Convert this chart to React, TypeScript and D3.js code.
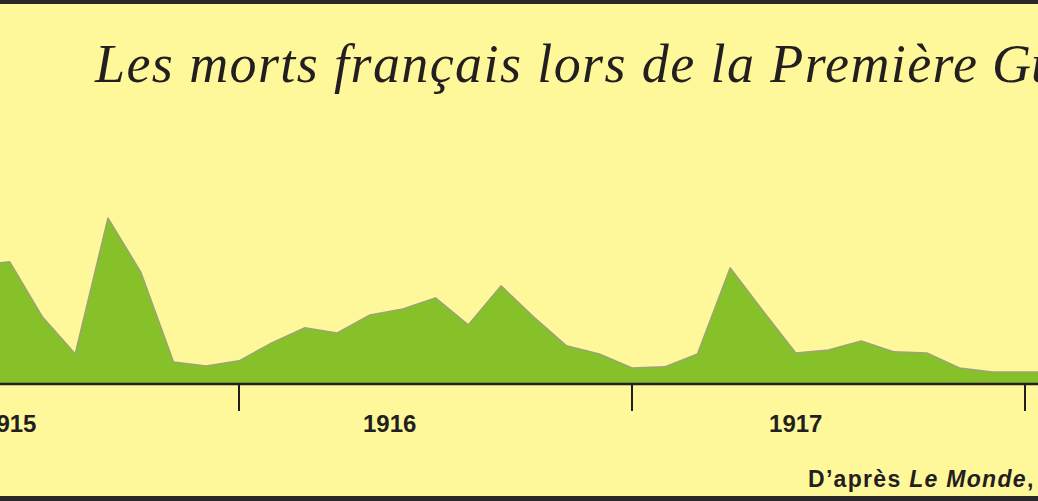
import React from "react";
import * as d3 from "d3";

// Monthly French military deaths (thousands)
const months: string[] = [
  "1915-05", "1915-06", "1915-07", "1915-08", "1915-09", "1915-10", "1915-11", "1915-12",
  "1916-01", "1916-02", "1916-03", "1916-04", "1916-05", "1916-06", "1916-07", "1916-08",
  "1916-09", "1916-10", "1916-11", "1916-12",
  "1917-01", "1917-02", "1917-03", "1917-04", "1917-05", "1917-06", "1917-07", "1917-08",
  "1917-09", "1917-10", "1917-11", "1917-12",
  "1918-01", "1918-02",
];
const deaths: number[] = [
  39.7, 40.7, 22.3, 10, 55.3, 37.3, 7.3, 6,
  7.7, 13.7, 18.7, 17, 23, 25, 28.7, 19.7,
  32.7, 22.3, 12.7, 10,
  5.3, 5.7, 10, 38.7, 24.3, 10.3, 11.3, 14.3,
  10.7, 10.3, 5.3, 4,
  4, 4,
];
const yearTicks: string[] = ["1915-01", "1916-01", "1917-01", "1918-01"];
const yearLabels: string[] = ["1915", "1916", "1917"];
const yearLabelAt: number[] = [5, 4.6, 5]; // months after January of that year
const title = "Les morts français lors de la Première Guerre mondiale";
const titleVisible = "Les morts français lors de la Première";
const titleRest = " Guerre mondiale";

const W = 1038;
const H = 501;

function monthIndex(s: string): number {
  const [y, m] = s.split("-").map(Number);
  return (y - 1916) * 12 + (m - 1);
}

export default function App() {
  const x = d3.scaleLinear().domain([0, 12]).range([239, 632]);
  const y = d3.scaleLinear().domain([0, 60]).range([384, 204]);
  const data = months.map((m, i) => ({ t: monthIndex(m), v: deaths[i] }));
  const area = d3
    .area<{ t: number; v: number }>()
    .x((d) => x(d.t))
    .y0(y(0))
    .y1((d) => y(d.v));
  const line = d3
    .line<{ t: number; v: number }>()
    .x((d) => x(d.t))
    .y((d) => y(d.v));

  const ink = "#231f20";
  return (
    <div style={{ position: "fixed", left: 0, top: 0, width: W, height: H, overflow: "hidden" }}>
      <svg width={W} height={H} style={{ display: "block" }}>
        <rect x={0} y={0} width={W} height={H} fill="#fff89a" />
        <line x1={0} x2={W} y1={2} y2={2} stroke="#2b2829" strokeWidth={4} />
        <line x1={0} x2={W} y1={498.5} y2={498.5} stroke="#2b2829" strokeWidth={5} />

        <text
          x={95}
          y={82}
          fontFamily="'Liberation Serif', serif"
          fontStyle="italic"
          fontSize={54}
          fill={ink}
          aria-label={title}
        >
          <tspan textLength={882} lengthAdjust="spacing">{titleVisible}</tspan>
          <tspan>{titleRest}</tspan>
        </text>

        <path d={area(data) || ""} fill="#86c12a" />
        <path d={line(data) || ""} fill="none" stroke="#9ba474" strokeWidth={1.6} strokeLinejoin="round" />

        <line x1={0} x2={W} y1={384} y2={384} stroke={ink} strokeWidth={2.6} />
        {yearTicks.map((t) => (
          <line
            key={t}
            x1={x(monthIndex(t))}
            x2={x(monthIndex(t))}
            y1={384}
            y2={411}
            stroke={ink}
            strokeWidth={2}
          />
        ))}
        {yearLabels.map((lab, i) => (
          <text
            key={lab}
            x={x(monthIndex(lab + "-01") + yearLabelAt[i])}
            y={432}
            textAnchor="middle"
            fontFamily="'Liberation Sans', Arial, sans-serif"
            fontWeight="bold"
            fontSize={24}
            fill={ink}
          >
            {lab}
          </text>
        ))}

        <text
          x={808}
          y={487}
          fontFamily="'Liberation Sans', Arial, sans-serif"
          fontWeight="bold"
          fontSize={23}
          letterSpacing={1.3}
          fill={ink}
        >
          D’après <tspan fontStyle="italic">Le Monde</tspan>,
        </text>
      </svg>
    </div>
  );
}
